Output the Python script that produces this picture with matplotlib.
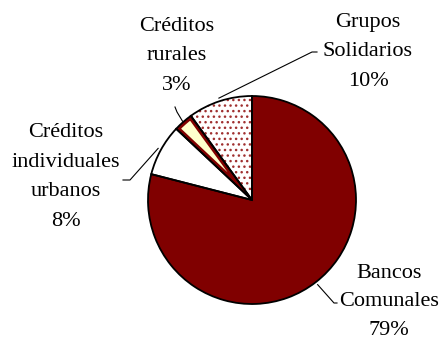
import numpy as np
import matplotlib
matplotlib.use("Agg")
import matplotlib.pyplot as plt
from matplotlib.patches import Wedge

# Share of the loan portfolio by credit product
labels = ["Bancos\nComunales", "Créditos\nindividuales\nurbanos", "Créditos\nrurales", "Grupos\nSolidarios"]
shares = [79, 8, 3, 10]

DARK_RED = "#800000"
CREAM = "#FFFFCC"

plt.rcParams["hatch.linewidth"] = 1.0

W, H = 445, 343
fig = plt.figure(figsize=(W / 100, H / 100), dpi=100)
ax = fig.add_axes([0, 0, 1, 1])

cx, cy, R = 252, H - 200, 104
wedges, _ = ax.pie(shares, startangle=90, counterclock=False, center=(cx, cy),
                   radius=R, colors=[DARK_RED, "white", CREAM, "white"],
                   wedgeprops=dict(linewidth=0))
ax.set_xlim(0, W)
ax.set_ylim(0, H)
ax.set_aspect("equal")
ax.axis("off")

# dotted fill for Grupos Solidarios
g = wedges[3]
g.set_edgecolor("#A03030")
g.set_hatch("...")
g.set_linewidth(0)

# striped border inside the rural wedge
r = wedges[2]
band = Wedge(r.center, r.r, r.theta1, r.theta2, fill=False, edgecolor=DARK_RED, lw=5)
ax.add_patch(band)
band.set_clip_path(r)

# black outlines
for w in wedges:
    ax.add_patch(Wedge(w.center, w.r, w.theta1, w.theta2, fill=False,
                       edgecolor="black", lw=1.3, zorder=5))

font = dict(family="Liberation Serif", fontsize=16, ha="center", va="center",
            linespacing=1.75)

def pct_text(i, x, y, **kw):
    ax.text(x, H - y, f"{labels[i]}\n{shares[i]}%", **{**font, **kw})

pct_text(0, 389, 302, linespacing=1.7)
pct_text(1, 66, 177)
pct_text(2, 177, 56)
pct_text(3, 368, 52)

def edge_point(i, k=1.03):
    w = wedges[i]
    a = np.deg2rad((w.theta1 + w.theta2) / 2)
    return cx + k * R * np.cos(a), cy + k * R * np.sin(a)

def leader(i, pts, k=1.03):
    ex, ey = edge_point(i, k)
    xs = [p[0] for p in pts] + [ex]
    ys = [H - p[1] for p in pts] + [ey]
    ax.plot(xs, ys, color="black", lw=0.8, zorder=6)

leader(0, [(337, 303), (334, 303)])
leader(1, [(123, 180), (130, 180)])
leader(2, [(175, 107), (177, 112)], k=1.01)
leader(3, [(317, 52), (312, 52)], k=1.03)

fig.savefig("out.png", dpi=100)
